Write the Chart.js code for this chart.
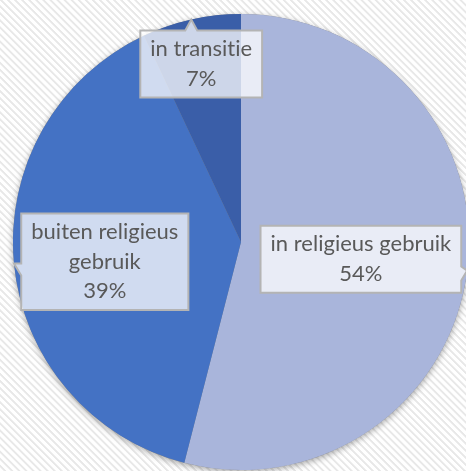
<!DOCTYPE html>
<html>
<head>
<meta charset="utf-8">
<script src="https://cdn.jsdelivr.net/npm/chart.js@4"></script>
<style>
  html, body { margin: 0; padding: 0; width: 466px; height: 471px; overflow: hidden; }
  body {
    background: repeating-linear-gradient(45deg, #ffffff 0px, #ffffff 2.4px, #e8e8e8 3.1px, #e8e8e8 4.3px, #ffffff 5px);
  }
  #wrap { position: absolute; left: 0; top: 0; width: 482px; height: 484px; }
</style>
</head>
<body>
<div id="wrap"><canvas id="pieChart" width="482" height="484"></canvas></div>
<script>
const categories = ['in religieus gebruik', 'buiten religieus gebruik', 'in transitie'];
const labelLines = [['in religieus gebruik'], ['buiten religieus', 'gebruik'], ['in transitie']];
const shares = [54, 39, 7];
const sliceColors = ['#a9b5db', '#4472c4', '#3a5ea8'];

// callout boxes, placed like excel "best fit"
const calloutPlugin = {
  id: 'callouts',
  beforeDatasetsDraw(chart) {
    const arc = chart.getDatasetMeta(0).data[0];
    const ctx = chart.ctx;
    ctx.save();
    ctx.shadowColor = 'rgba(0,0,0,0.35)';
    ctx.shadowBlur = 6;
    ctx.shadowOffsetY = 2;
    ctx.fillStyle = '#888';
    ctx.beginPath();
    ctx.arc(arc.x, arc.y, arc.outerRadius, 0, Math.PI * 2);
    ctx.fill();
    ctx.restore();
  },
  afterDatasetsDraw(chart, args, opts) {
    const ctx = chart.ctx;
    const meta = chart.getDatasetMeta(0);
    ctx.save();
    ctx.font = '22px Lato, "Open Sans", sans-serif';
    ctx.letterSpacing = '0.01px'; // no "ti" ligature
    ctx.textAlign = 'center';
    ctx.textBaseline = 'middle';
    const lineH = 29.5;
    meta.data.forEach((el, i) => {
      const mid = (el.startAngle + el.endAngle) / 2;
      const d = opts.distance[i] * el.outerRadius;
      const cx = el.x + Math.cos(mid) * d;
      const cy = el.y + Math.sin(mid) * d + opts.shiftY[i];
      const lines = labelLines[i].concat([shares[i] + '%']);
      const w = Math.max(...lines.map(t => ctx.measureText(t).width)) + 20;
      const h = lines.length * lineH + 8;
      const l = cx - w / 2, t = cy - h / 2, r = cx + w / 2, b = cy + h / 2;
      // tip at outer edge of the slice
      const px = el.x + Math.cos(mid) * el.outerRadius;
      const py = el.y + Math.sin(mid) * el.outerRadius;
      ctx.beginPath();
      ctx.moveTo(l, t);
      if (py < t) {
        const bx = Math.min(Math.max(px, l + 10), r - 10);
        ctx.lineTo(bx - 6, t); ctx.lineTo(px, py); ctx.lineTo(bx + 6, t);
      }
      ctx.lineTo(r, t);
      if (px > r) {
        const by = Math.min(Math.max(py, t + 10), b - 10);
        ctx.lineTo(r, by - 4); ctx.lineTo(px, py); ctx.lineTo(r, by + 10);
      }
      ctx.lineTo(r, b);
      ctx.lineTo(l, b);
      if (px < l) {
        const by = Math.min(Math.max(py, t + 10), b - 10);
        ctx.lineTo(l, by + 12); ctx.lineTo(px, py); ctx.lineTo(l, by);
      }
      ctx.closePath();
      ctx.fillStyle = 'rgba(255,255,255,0.75)';
      ctx.fill();
      ctx.lineWidth = 2;
      ctx.strokeStyle = '#b4b4b4';
      ctx.stroke();
      ctx.fillStyle = '#595959';
      lines.forEach((txt, k) => {
        ctx.fillText(txt, cx, t + 4 + lineH * (k + 0.5));
      });
    });
    ctx.restore();
  }
};

new Chart(document.getElementById('pieChart'), {
  type: 'pie',
  data: {
    labels: categories,
    datasets: [{
      data: shares,
      backgroundColor: sliceColors,
      borderWidth: 0
    }]
  },
  options: {
    responsive: false,
    animation: false,
    layout: { padding: { top: 14, left: 13, right: 13, bottom: 14 } },
    plugins: {
      legend: { display: false },
      tooltip: { enabled: false },
      callouts: { distance: [0.53, 0.6, 0.8], shiftY: [2, 7, 0] }
    }
  },
  plugins: [calloutPlugin]
});
</script>
</body>
</html>
